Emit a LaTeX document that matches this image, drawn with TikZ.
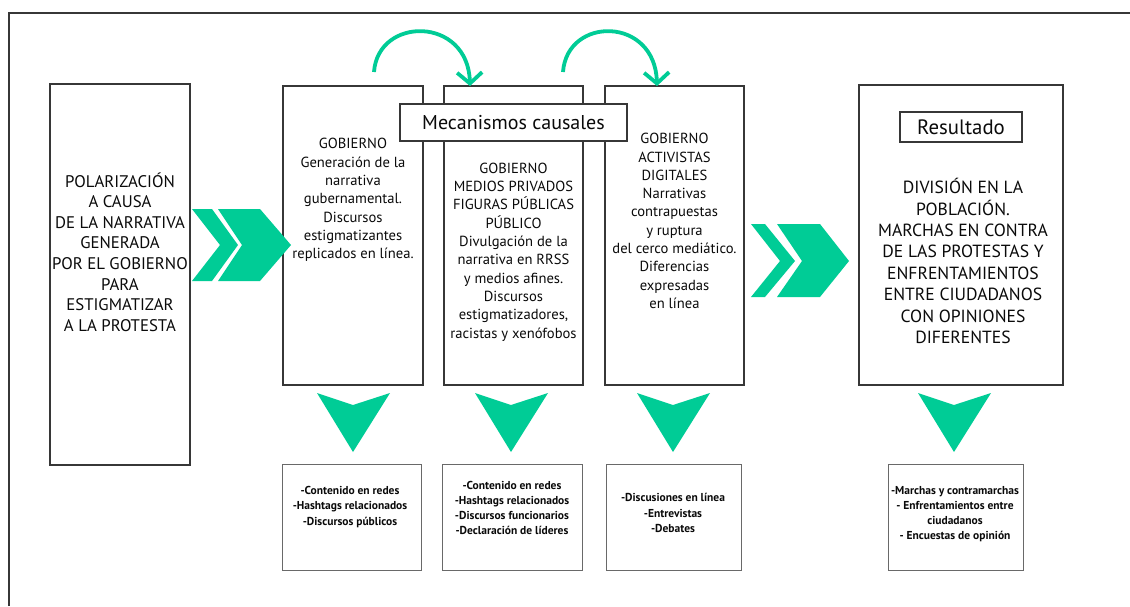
\documentclass[tikz,border=0pt]{standalone}
\usepackage{fontspec}
\setmainfont{PT Sans}
\usetikzlibrary{arrows.meta,calc}
\definecolor{teal1}{RGB}{0,204,150}
\definecolor{frame}{RGB}{55,55,55}
\definecolor{thin}{RGB}{105,105,105}
\definecolor{ink}{RGB}{10,10,10}
\begin{document}
\begin{tikzpicture}[x=1pt,y=-1pt,
  mainbox/.style={draw=frame,line width=1.6pt,fill=white,inner sep=0pt,outer sep=0pt},
  outbox/.style={draw=thin,line width=0.9pt,inner sep=0pt,outer sep=0pt},
  label/.style={align=center,inner sep=0pt,text=ink},
  maintxt/.style={label,font=\fontsize{14.6}{18.3}\selectfont},
  bigtxt/.style={label,font=\fontsize{16.8}{20.6}\selectfont},
  smalltxt/.style={label,font=\fontsize{11.5}{15.2}\selectfont\bfseries},
  chev/.style={fill=teal1,draw=none},
  curvearrow/.style={draw=teal1,line width=3.8pt,-{Straight Barb[length=11pt,width=25pt]}}
]
\useasboundingbox (0,0) rectangle (1130,606);
\fill[white] (0,0) rectangle (1130,606);
% outer frame (cropped)
\draw[frame,line width=1.8pt] (9,606) -- (9,13) -- (1130,13);

% main boxes
\node[mainbox,minimum width=140pt,minimum height=381pt] (b1) at (120,274.5) {};
\node[mainbox,minimum width=140pt,minimum height=299pt] (b2) at (353,235.5) {};
\node[mainbox,minimum width=139pt,minimum height=299pt] (b3) at (513.5,235.5) {};
\node[mainbox,minimum width=139pt,minimum height=299pt] (b4) at (674.5,235.5) {};
\node[mainbox,minimum width=204pt,minimum height=300pt] (b5) at (961,235) {};
\node[mainbox,minimum width=227pt,minimum height=37pt,font=\fontsize{20}{22}\selectfont,text=ink] (mech) at (513.5,122.5) {Mecanismos causales};
\node[draw=frame,line width=1.3pt,minimum width=122pt,minimum height=30pt,inner sep=0pt,font=\fontsize{20.8}{22}\selectfont,text=ink] (res) at (961,127) {Resultado};

% texts in main boxes
\node[bigtxt] (t1) at (b1.center |- 0,252) {POLARIZACIÓN\\A CAUSA\\DE LA NARRATIVA\\GENERADA\\POR EL GOBIERNO\\PARA\\ESTIGMATIZAR\\A LA PROTESTA};
\node[maintxt] (t2) at (b2.center |- 0,200) {GOBIERNO\\Generación de la\\narrativa\\gubernamental.\\Discursos\\estigmatizantes\\replicados en línea.};
\node[maintxt] (t3) at (b3.center |- 0,252) {GOBIERNO\\MEDIOS PRIVADOS\\FIGURAS PÚBLICAS\\PÚBLICO\\Divulgación de la\\narrativa en RRSS\\y medios afines.\\Discursos\\estigmatizadores,\\racistas y xenófobos};
\node[maintxt] (t4) at (b4.center |- 0,221) {GOBIERNO\\ACTIVISTAS\\DIGITALES\\Narrativas\\contrapuestas\\y ruptura\\del cerco mediático.\\Diferencias\\expresadas\\en línea};
\node[label,font=\fontsize{17.6}{21.4}\selectfont] (t5) at (963,261) {DIVISIÓN EN LA\\POBLACIÓN.\\MARCHAS EN CONTRA\\DE LAS PROTESTAS Y\\ENFRENTAMIENTOS\\ENTRE CIUDADANOS\\CON OPINIONES\\DIFERENTES};

% output boxes
\node[outbox,minimum width=139pt,minimum height=106pt] (o1) at (351.5,517) {};
\node[outbox,minimum width=140pt,minimum height=106pt] (o2) at (512,517) {};
\node[outbox,minimum width=135pt,minimum height=106pt] (o3) at (673.5,517) {};
\node[outbox,minimum width=135pt,minimum height=106pt] (o4) at (955.5,517) {};
\node[smalltxt] (s1) at (350,507) {-Contenido en redes\\-Hashtags relacionados\\-Discursos públicos};
\node[smalltxt] (s2) at (512,508) {-Contenido en redes\\-Hashtags relacionados\\-Discursos funcionarios\\-Declaración de líderes};
\node[smalltxt] (s3) at (673,513) {-Discusiones en línea\\-Entrevistas\\-Debates};
\node[smalltxt] (s4) at (955,514) {-Marchas y contramarchas\\- Enfrentamientos entre\\ciudadanos\\- Encuestas de opinión};

% double chevrons
\fill[chev] (192,209) -- (212,209) -- (238,245) -- (212,281) -- (192,281) -- (220,245) -- cycle;
\fill[chev] (218,209) -- (260,209) -- (291,245) -- (260,281) -- (218,281) -- (242,245) -- cycle;
\fill[chev] (751,224) -- (765,224) -- (795,261) -- (765,297) -- (751,297) -- (780,261) -- cycle;
\fill[chev] (777,224) -- (820,224) -- (849,261) -- (820,297) -- (777,297) -- (802,261) -- cycle;

% down arrows
\foreach \cx in {353,511,673,954}{
  \fill[chev] (\cx-36,393) -- (\cx,405) -- (\cx+37,393) -- (\cx,452) -- cycle;
}

% curved arrows
\coordinate (a1s) at ($(b2.north west)+(91,-14)$);
\coordinate (a1e) at ($(b3.north west)+(26,0)$);
\coordinate (a2s) at ($(b3.north west)+(119,-14)$);
\coordinate (a2e) at ($(b4.north west)+(52,0)$);
\draw[curvearrow] (a1s) .. controls ($(a1s)+(4,-56)$) and ($(a1e)+(-2,-70)$) .. (a1e);
\draw[curvearrow] (a2s) .. controls ($(a2s)+(4,-56)$) and ($(a2e)+(-2,-70)$) .. (a2e);
\end{tikzpicture}
\end{document}
